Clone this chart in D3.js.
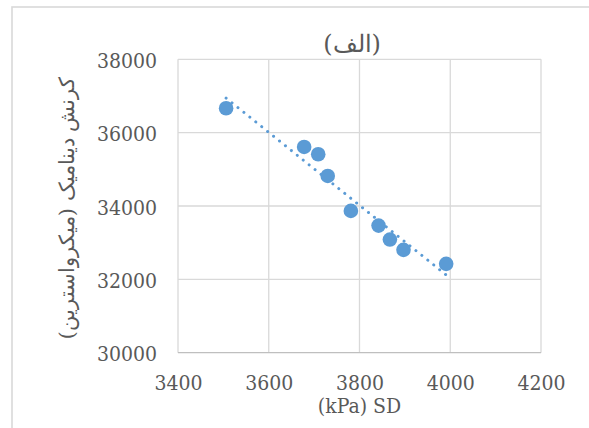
<!DOCTYPE html>
<html>
<head>
<meta charset="utf-8">
<script src="https://cdn.jsdelivr.net/npm/d3@7"></script>
<style>
  body { margin: 0; background: #fff; }
</style>
</head>
<body>
<div id="chart"></div>
<script>
// Data
var sdValues = [3506, 3678, 3709, 3730, 3781, 3842, 3867, 3897, 3991];
var strainValues = [36665, 35610, 35411, 34820, 33866, 33466, 33085, 32804, 32422];
var xTicks = [3400, 3600, 3800, 4000, 4200];
var yTicks = [30000, 32000, 34000, 36000, 38000];

var chartTitle = "(الف)";
var xTitle = "(kPa) SD";
var yTitle = "کرنش دینامیک (میکرواسترین)";

var serifFont = "DejaVu Serif";
var textColor = "#595959";

// SVG area
var svgWidth = 589;
var svgHeight = 428;

// Plot area box
var plot = { left: 178, right: 541, top: 59.3, bottom: 352.7 };

var svg = d3.select("#chart")
  .append("svg")
  .attr("width", svgWidth)
  .attr("height", svgHeight);

// chart frame (only left and top edges are visible)
svg.append("rect")
  .attr("x", 12)
  .attr("y", 7)
  .attr("width", 600)
  .attr("height", 450)
  .attr("fill", "none")
  .attr("stroke", "#d9d9d9")
  .attr("stroke-width", 1.6);

var x = d3.scaleLinear()
  .domain([3400, 4200])
  .range([plot.left, plot.right]);

var y = d3.scaleLinear()
  .domain([30000, 38000])
  .range([plot.bottom, plot.top]);

// Gridlines
var gridG = svg.append("g");
gridG.selectAll(".vgrid")
  .data(xTicks)
  .enter()
  .append("line")
  .attr("x1", d => x(d))
  .attr("x2", d => x(d))
  .attr("y1", plot.top)
  .attr("y2", plot.bottom)
  .attr("stroke", "#d9d9d9")
  .attr("stroke-width", 1.3);
gridG.selectAll(".hgrid")
  .data(yTicks)
  .enter()
  .append("line")
  .attr("x1", plot.left)
  .attr("x2", plot.right)
  .attr("y1", d => y(d))
  .attr("y2", d => y(d))
  .attr("stroke", d => d === 30000 ? "#bfbfbf" : "#d9d9d9")
  .attr("stroke-width", 1.3);

// X axis labels
var xAxis = svg.append("g")
  .attr("transform", `translate(0, ${plot.bottom})`)
  .call(d3.axisBottom(x).tickValues(xTicks).tickSize(0).tickFormat(d3.format("d")));
xAxis.select(".domain").remove();
xAxis.attr("font-family", serifFont).attr("font-size", 21);
xAxis.selectAll("text")
  .attr("y", 37)
  .attr("dy", 0)
  .attr("fill", textColor)
  .style("font-stretch", "condensed");

// Y axis labels
var yAxis = svg.append("g")
  .attr("transform", `translate(${plot.left}, 0)`)
  .call(d3.axisLeft(y).tickValues(yTicks).tickSize(0).tickFormat(d3.format("d")));
yAxis.select(".domain").remove();
yAxis.attr("font-family", serifFont).attr("font-size", 21);
yAxis.selectAll("text")
  .attr("x", -21)
  .attr("dy", 8)
  .attr("fill", textColor)
  .style("font-stretch", "condensed");

// Linear trendline (least squares over the data)
var mx = d3.mean(sdValues);
var my = d3.mean(strainValues);
var sxy = d3.sum(sdValues, (v, i) => (v - mx) * (strainValues[i] - my));
var sxx = d3.sum(sdValues, v => (v - mx) * (v - mx));
var slope = sxy / sxx;
var intercept = my - slope * mx;
var xExt = d3.extent(sdValues);

svg.append("line")
  .attr("x1", x(xExt[0]))
  .attr("y1", y(slope * xExt[0] + intercept))
  .attr("x2", x(xExt[1]))
  .attr("y2", y(slope * xExt[1] + intercept))
  .attr("stroke", "#5b9bd5")
  .attr("stroke-width", 3)
  .attr("stroke-linecap", "round")
  .attr("stroke-dasharray", "0.01,7.6");

// Points
var points = sdValues.map((v, i) => ({ sd: v, strain: strainValues[i] }));
svg.append("g")
  .selectAll("circle")
  .data(points)
  .enter()
  .append("circle")
  .attr("cx", d => x(d.sd))
  .attr("cy", d => y(d.strain))
  .attr("r", 7.3)
  .attr("fill", "#5b9bd5");

// Titles
svg.append("text")
  .attr("x", 352)
  .attr("y", 52)
  .attr("text-anchor", "middle")
  .attr("fill", textColor)
  .attr("font-family", serifFont)
  .attr("font-size", 24)
  .text(chartTitle);

svg.append("text")
  .attr("x", (plot.left + plot.right) / 2)
  .attr("y", 413)
  .attr("text-anchor", "middle")
  .attr("fill", textColor)
  .attr("font-family", serifFont)
  .attr("font-size", 21)
  .style("font-stretch", "condensed")
  .text(xTitle);

svg.append("text")
  .attr("transform", "translate(68, 208) rotate(-90)")
  .attr("text-anchor", "middle")
  .attr("dominant-baseline", "middle")
  .attr("fill", textColor)
  .attr("font-family", serifFont)
  .attr("font-size", 21)
  .text(yTitle);
</script>
</body>
</html>
